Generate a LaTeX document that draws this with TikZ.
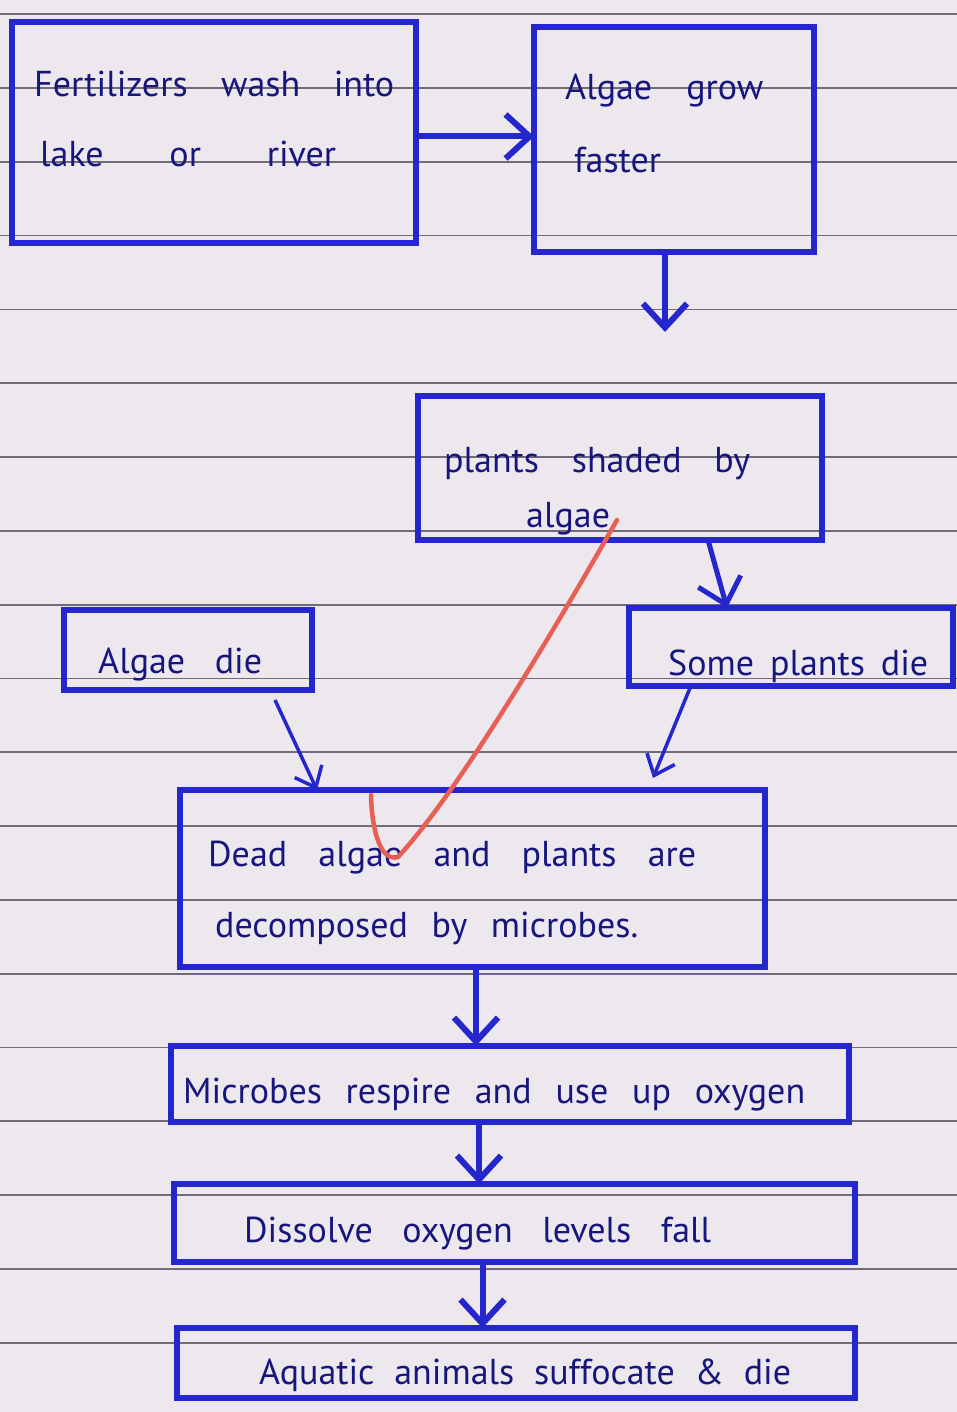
\documentclass[tikz,border=0pt]{standalone}
\usepackage{fontspec}
\setmainfont{PT Sans}
\usetikzlibrary{arrows.meta}
\definecolor{paper}{RGB}{236,232,238}
\definecolor{rulecol}{RGB}{85,75,92}
\definecolor{boxblue}{RGB}{38,38,205}
\definecolor{ink}{RGB}{22,22,125}
\definecolor{tickred}{RGB}{232,95,85}
\newcommand{\hwline}[2]{\makebox[#1][s]{#2}}
\begin{document}
\begin{tikzpicture}[x=1pt,y=-1pt,
  box/.style={draw=boxblue, line width=6pt, inner sep=0pt, outer sep=0pt, anchor=north west},
  txt/.style={text=ink, inner sep=0pt, anchor=base west, font=\fontsize{36}{42}\selectfont},
  arr/.style={draw=boxblue, line width=6pt, -{Straight Barb[length=24pt,width=44pt]}},
  thinarr/.style={draw=boxblue, line width=3.5pt, -{Straight Barb[length=18pt,width=30pt]}},
  paperline/.style={draw=rulecol, line width=1.8pt, opacity=0.8},
  tickline/.style={draw=tickred, line width=4.5pt, line cap=round, line join=round}]
\fill[paper] (0,0) rectangle (957,1412);
\useasboundingbox (0,0) rectangle (957,1412);
\foreach \i in {0,...,18} \draw[paperline] (0,{14.2+73.8*\i}) -- (957,{14.2+73.8*\i});

% boxes
\node[box, minimum width=404pt, minimum height=221pt] (b1) at (12,22) {};
\node[box, minimum width=280pt, minimum height=225pt] (b2) at (534,27) {};
\node[box, minimum width=404pt, minimum height=144pt] (b4) at (418,396) {};
\node[box, minimum width=248pt, minimum height=80pt] (b6) at (64,610) {};
\node[box, minimum width=324pt, minimum height=78pt] (b7) at (629,608) {};
\node[box, minimum width=585pt, minimum height=177pt] (b8) at (180,790) {};
\node[box, minimum width=678pt, minimum height=76pt] (b10) at (171,1046) {};
\node[box, minimum width=681pt, minimum height=78pt] (b12) at (174,1184) {};
\node[box, minimum width=678pt, minimum height=70pt] (b14) at (177,1328) {};

% texts
\node[txt] (t1a) at (34,97) {\hwline{360pt}{Fertilizers wash into}};
\node[txt] (t1b) at (40,167) {\hwline{296pt}{lake or river}};
\node[txt] (t2a) at (565,100) {\hwline{198pt}{Algae grow}};
\node[txt] (t2b) at (574,173) {faster};
\node[txt] (t4a) at (444,472) {\hwline{306pt}{plants shaded by}};
\node[txt] (t4b) at (526,527) {algae};
\node[txt] (t6) at (98,673) {\hwline{164pt}{Algae die}};
\node[txt] (t7) at (668,675) {\hwline{260pt}{Some plants die}};
\node[txt] (t8a) at (208,866) {\hwline{488pt}{Dead algae and plants are}};
\node[txt] (t8b) at (215,937) {\hwline{423pt}{decomposed by microbes.}};
\node[txt] (t10) at (183,1103) {\hwline{622pt}{Microbes respire and use up oxygen}};
\node[txt] (t12) at (244,1242) {\hwline{467pt}{Dissolve oxygen levels fall}};
\node[txt] (t14) at (259,1384) {\hwline{532pt}{Aquatic animals suffocate \& die}};

% connectors
\draw[arr] ([yshift=-4pt]b1.east) -- ([yshift=-4pt]b1.east -| b2.west);
\coordinate (e1) at (665,332);
\draw[arr] (b2.south -| e1) -- (e1);
\draw[arr, line width=5pt] ([xshift=88pt]b4.south) -- ([xshift=-64pt]b7.north);
\draw[thinarr] ([xshift=87pt,yshift=-10pt]b6.south) -- ([xshift=-155.5pt]b8.north);
\draw[thinarr] ([xshift=-101pt,yshift=-2pt]b7.south) -- ([xshift=180.5pt,yshift=12pt]b8.north);
\draw[arr] ([xshift=3.5pt]b8.south) -- ([xshift=-34pt]b10.north);
\draw[arr] ([xshift=-31pt]b10.south) -- ([xshift=-35.5pt]b12.north);
\draw[arr] ([xshift=-32pt]b12.south) -- ([xshift=-33.5pt]b14.north);

% red tick mark
\draw[tickline] (371,795) .. controls (372,835) and (382,862) .. (398,857)
  .. controls (460,790) and (560,620) .. (617,520);
\end{tikzpicture}
\end{document}
